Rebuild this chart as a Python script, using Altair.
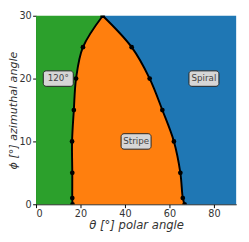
import altair as alt
import pandas as pd

# boundary data (phi in degrees, theta in degrees)
phi = [0, 1, 5, 10, 15, 20, 25, 30]
theta_left = [16.4, 16.3, 16.3, 16.2, 17.0, 18.0, 21.1, 30.0]
theta_right = [66.8, 66.0, 64.9, 62.0, 56.8, 51.1, 43.0, 30.0]

theta_min, theta_max = 0, 90
phi_min, phi_max = 0, 30

label_text = ["120°", "Stripe", "Spiral"]
label_theta = [10, 45, 75.5]
label_phi = [20, 10, 20]

regions = pd.DataFrame({
    "phi": phi,
    "left": theta_left,
    "right": theta_right,
    "lo": [theta_min] * len(phi),
    "hi": [theta_max] * len(phi),
})

branch_df = pd.DataFrame({
    "theta": theta_left + theta_right,
    "phi": phi + phi,
    "branch": ["left"] * len(phi) + ["right"] * len(phi),
})
lab_df = pd.DataFrame({"text": label_text, "theta": label_theta, "phi": label_phi})

xs = alt.Scale(domain=[theta_min, theta_max], nice=False, zero=False)
ys = alt.Scale(domain=[phi_min, phi_max], nice=False, zero=False)

x_axis = alt.Axis(title="θ [°] polar angle", values=[0, 20, 40, 60, 80], grid=False)
y_axis = alt.Axis(title="ϕ [°] azimuthal angle", values=[0, 5, 10, 15, 20, 25, 30], grid=False,
                  titleX=-20, titleBaseline="alphabetic", titleFontSize=11.5)

interp = "catmull-rom"
base = alt.Chart(regions)


def region(lo, hi, color, axes=False):
    if axes:
        y = alt.Y("phi:Q", scale=ys, axis=y_axis)
        x = alt.X(f"{lo}:Q", scale=xs, stack=None, axis=x_axis)
    else:
        y = alt.Y("phi:Q", scale=ys)
        x = alt.X(f"{lo}:Q", scale=xs, stack=None)
    return base.mark_area(color=color, orient="horizontal", interpolate=interp, opacity=1).encode(
        y=y, x=x, x2=f"{hi}:Q",
    )


green = region("lo", "left", "#2ca02c", axes=True)
orange = region("left", "right", "#ff7f0e")
blue = region("right", "hi", "#1f77b4")

line = alt.Chart(branch_df).mark_line(color="black", strokeWidth=2, interpolate=interp,
                                      clip=True).encode(
    x=alt.X("theta:Q", scale=xs),
    y=alt.Y("phi:Q", scale=ys),
    detail="branch:N",
    order="phi:Q",
)
pts = alt.Chart(branch_df).mark_circle(color="black", size=24, opacity=1, clip=True).encode(
    x=alt.X("theta:Q", scale=xs),
    y=alt.Y("phi:Q", scale=ys),
)

boxes = alt.Chart(lab_df).mark_rect(width=31, height=16, cornerRadius=3, fill="#d6d6d6",
                                    stroke="#222222", strokeWidth=1).encode(
    x=alt.X("theta:Q", scale=xs),
    y=alt.Y("phi:Q", scale=ys),
)
texts = alt.Chart(lab_df).mark_text(font="DejaVu Sans", fontSize=9, color="#444444",
                                    baseline="middle", align="center").encode(
    x=alt.X("theta:Q", scale=xs),
    y=alt.Y("phi:Q", scale=ys),
    text="text:N",
)

chart = alt.layer(green, orange, blue, line, pts, boxes, texts).properties(
    width=207, height=195,
    autosize=alt.AutoSizeParams(type="none"),
    padding={"left": 29, "top": 4, "right": 5, "bottom": 35},
).configure_view(
    stroke=None,
).configure_axis(
    labelFont="DejaVu Sans", labelFontSize=10, labelColor="#333333",
    titleFont="DejaVu Sans", titleFontSize=12, titleFontWeight="normal",
    titleFontStyle="italic", titleColor="#333333",
    domainColor="black", domainWidth=1, tickColor="black", tickSize=3.5,
    labelPadding=1.5,
).configure_axisX(titlePadding=1)

chart.save("out.html", embed_options={"renderer": "svg", "actions": False})
